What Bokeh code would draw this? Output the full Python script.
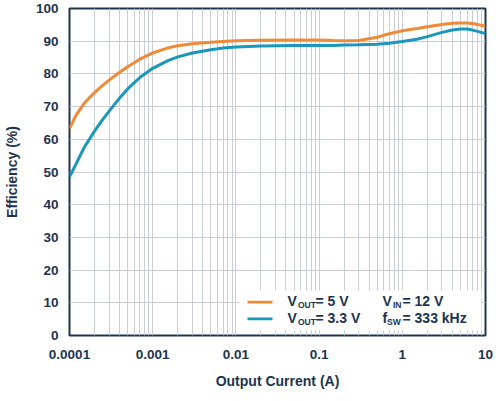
from bokeh.plotting import figure
from bokeh.models import Range1d, FixedTicker, Label, BoxAnnotation
from bokeh.embed import file_html
from bokeh.resources import INLINE

# ---- data ----
current_a = [0.0001, 0.00012, 0.00015, 0.0002, 0.00025, 0.0003, 0.0004, 0.0005, 0.0007,
             0.001, 0.0015, 0.002, 0.003, 0.005, 0.007, 0.01, 0.02, 0.05, 0.1,
             0.15, 0.2, 0.3, 0.5, 0.7, 1, 1.5, 2, 3, 4, 5, 6, 7, 8, 10]
eff_5v = [63.3, 67.4, 71.0, 74.3, 76.5, 78.1, 80.5, 82.2, 84.5,
          86.4, 87.9, 88.6, 89.2, 89.7, 89.9, 90.1, 90.3, 90.4, 90.4,
          90.2, 90.1, 90.2, 91.2, 92.3, 93.2, 93.9, 94.4, 95.1, 95.5, 95.6, 95.6, 95.4, 95.1, 94.6]
eff_3v3 = [48.5, 52.5, 57.5, 62.5, 66.0, 68.6, 72.6, 75.4, 78.9,
           81.7, 84.0, 85.2, 86.4, 87.4, 87.9, 88.2, 88.5, 88.7, 88.7,
           88.7, 88.8, 88.9, 89.1, 89.4, 89.9, 90.6, 91.4, 92.7, 93.4, 93.7, 93.7, 93.4, 93.0, 92.3]

x_ticks = [0.0001, 0.001, 0.01, 0.1, 1, 10]
x_tick_labels = ["0.0001", "0.001", "0.01", "0.1", "1", "10"]
y_ticks = [0, 10, 20, 30, 40, 50, 60, 70, 80, 90, 100]
x_label = "Output Current (A)"
y_label = "Efficiency (%)"
# legend texts: (main, subscript, rest)
legend_texts = [("V", "OUT", "= 5 V"), ("V", "OUT", "= 3.3 V"),
                ("V", "IN", "= 12 V"), ("f", "SW", "= 333 kHz")]

ORANGE = "#ef8a38"
BLUE = "#1a97bb"
NAVY = "#1c3450"
GRID = "#c9ced4"
FONT = "Liberation Sans"

p = figure(x_axis_type="log", x_range=Range1d(1e-4, 10), y_range=Range1d(0, 100),
           frame_width=416, frame_height=327,
           min_border_left=59, min_border_right=8, min_border_top=8, min_border_bottom=50,
           output_backend="svg", toolbar_location=None, tools="")

p.background_fill_color = "white"
p.border_fill_color = "white"
p.outline_line_color = NAVY
p.outline_line_width = 2

minor = [m * d for d in [0.0001, 0.001, 0.01, 0.1, 1] for m in range(2, 10)]
p.xaxis.ticker = FixedTicker(ticks=x_ticks, minor_ticks=minor)
p.xaxis.major_label_overrides = {t: s for t, s in zip(x_ticks, x_tick_labels)}
p.yaxis.ticker = FixedTicker(ticks=y_ticks)

for ax in (p.xaxis[0], p.yaxis[0]):
    ax.axis_line_color = None
    ax.major_tick_line_color = None
    ax.minor_tick_line_color = None
    ax.major_label_text_font = FONT
    ax.major_label_text_font_style = "bold"
    ax.major_label_text_font_size = "13.5px"
    ax.major_label_text_color = NAVY
    ax.axis_label_text_font = FONT
    ax.axis_label_text_font_style = "bold"
    ax.axis_label_text_font_size = "14px"
    ax.axis_label_text_color = NAVY

p.xaxis.axis_label = x_label
p.yaxis.axis_label = y_label
p.xaxis.major_label_standoff = 8
p.xaxis.axis_label_standoff = 11
p.yaxis.major_label_standoff = 5
p.yaxis.axis_label_standoff = 13

p.xgrid.grid_line_color = GRID
p.xgrid.minor_grid_line_color = GRID
p.ygrid.grid_line_color = GRID
p.xgrid.grid_line_width = 1
p.ygrid.grid_line_width = 1

r5 = p.line(current_a, eff_5v, line_color=ORANGE, line_width=3)
r3 = p.line(current_a, eff_3v3, line_color=BLUE, line_width=3)

# legend panel (screen offsets from the frame's bottom-left corner)
p.add_layout(BoxAnnotation(left=170, right=412, bottom=5, top=45,
                           left_units="screen", right_units="screen",
                           bottom_units="screen", top_units="screen",
                           fill_color="white", fill_alpha=1.0, line_color=None,
                           level="overlay"))
for color, yc in ((ORANGE, 33.3), (BLUE, 16.7)):
    p.add_layout(BoxAnnotation(left=178, right=203, bottom=yc - 1.4, top=yc + 1.4,
                               left_units="screen", right_units="screen",
                               bottom_units="screen", top_units="screen",
                               fill_color=color, fill_alpha=1.0, line_color=None,
                               level="overlay"))

cols = [(218, 228.5, 246), (218, 228.5, 246), (313, 323.5, 333), (313, 317.5, 333)]
rows = [(34.2, 31.0), (17.8, 14.0), (34.2, 31.0), (17.8, 14.0)]
for (main, sub, rest), (xm, xs, xr), (ym, ys) in zip(legend_texts, cols, rows):
    for txt, xx, yy, size in ((main, xm, ym, "14px"), (sub, xs, ys, "8.5px"), (rest, xr, ym, "14px")):
        p.add_layout(Label(x=xx, y=yy, x_units="screen", y_units="screen", text=txt,
                           text_font=FONT, text_font_style="bold", text_font_size=size,
                           text_color=NAVY, text_align="left", text_baseline="middle",
                           level="overlay"))

open("out.html", "w").write(file_html(p, INLINE))
